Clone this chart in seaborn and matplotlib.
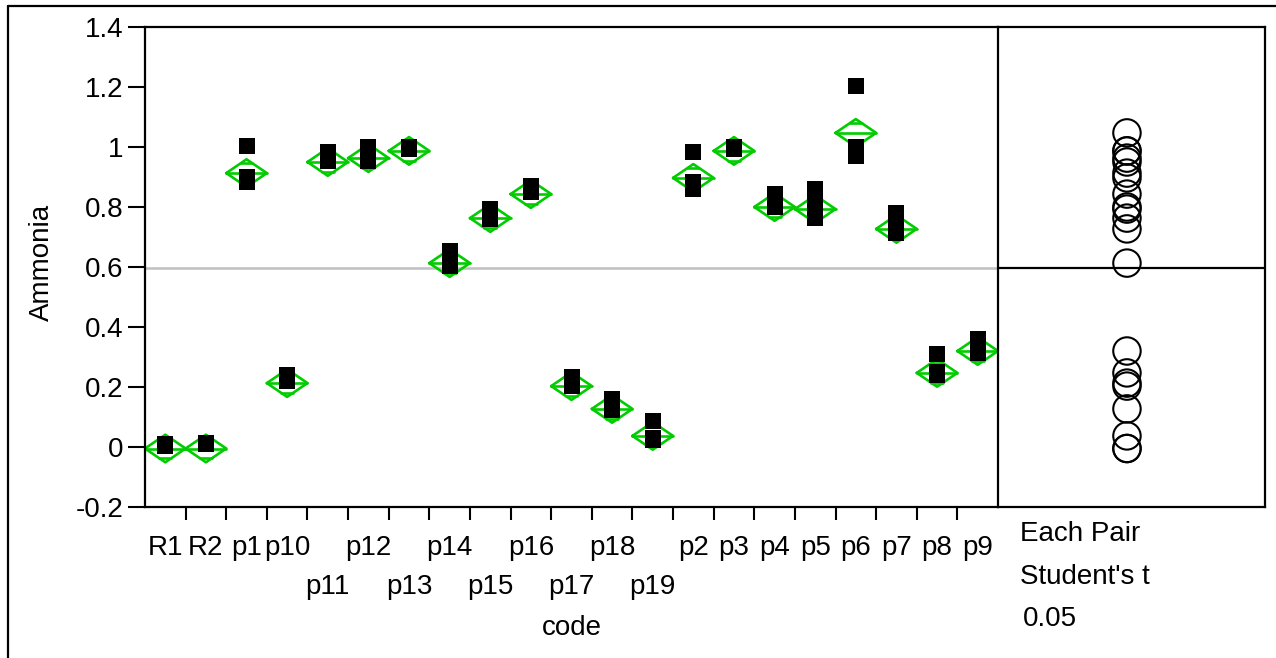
import numpy as np
import pandas as pd
import matplotlib
matplotlib.use("Agg")
import matplotlib.pyplot as plt
from matplotlib.lines import Line2D
import seaborn as sns

# ---- data ----
codes = ["R1", "R2", "p1", "p10", "p11", "p12", "p13", "p14", "p15", "p16",
         "p17", "p18", "p19", "p2", "p3", "p4", "p5", "p6", "p7", "p8", "p9"]

point_values = [
    [0.010, 0.005],            # R1
    [0.015, 0.010],            # R2
    [1.003, 0.900, 0.885],     # p1
    [0.240, 0.220],            # p10
    [0.983, 0.955],            # p11
    [1.000, 0.975, 0.955],     # p12
    [1.000, 0.995],            # p13
    [0.655, 0.620, 0.605],     # p14
    [0.795, 0.760],            # p15
    [0.870, 0.850],            # p16
    [0.235, 0.205],            # p17
    [0.160, 0.125],            # p18
    [0.087, 0.030, 0.025],     # p19
    [0.985, 0.885, 0.860],     # p2
    [1.000, 0.995],            # p3
    [0.845, 0.800],            # p4
    [0.860, 0.805, 0.765],     # p5
    [1.205, 1.000, 0.970],     # p6
    [0.780, 0.740, 0.715],     # p7
    [0.310, 0.250, 0.240],     # p8
    [0.360, 0.315],            # p9
]

group_means = [-0.005, -0.005, 0.913, 0.213, 0.950, 0.963, 0.987, 0.613, 0.763,
               0.843, 0.203, 0.127, 0.037, 0.897, 0.987, 0.800, 0.793, 1.047,
               0.727, 0.247, 0.320]
ci_half = 0.046          # 95% CI half-height of the mean diamonds / circle radius
grand_mean = 0.597

staggered = ["p11", "p13", "p15", "p17", "p19"]   # labels on the second row
yticks = [-0.2, 0, 0.2, 0.4, 0.6, 0.8, 1, 1.2, 1.4]
ytick_labels = ["-0.2", "0", "0.2", "0.4", "0.6", "0.8", "1", "1.2", "1.4"]

df = pd.DataFrame({
    "code": np.repeat(codes, [len(v) for v in point_values]),
    "Ammonia": np.concatenate(point_values),
})

# ---- style ----
sns.set_style("white")
plt.rcParams["font.family"] = ["Liberation Sans", "DejaVu Sans"]
plt.rcParams["text.color"] = "black"
plt.rcParams["xtick.color"] = "black"
plt.rcParams["ytick.color"] = "black"
FS = 20
GREEN = "#00cc00"

W, H = 1276, 658
fig = plt.figure(figsize=(W / 100, H / 100), dpi=100)


def fx(px):
    return px / W


def fy(py):
    return 1 - py / H


ax = fig.add_axes([fx(145), fy(507), (998 - 145) / W, (507 - 27) / H])
ax2 = fig.add_axes([fx(998), fy(507), (1265 - 998) / W, (507 - 27) / H])

# grand mean line
ax.axhline(grand_mean, color="#c0c0c0", lw=1.8, zorder=1)

# mean diamonds with overlap marks
d = ci_half / np.sqrt(2)
w = 0.5 * (1 - 1 / np.sqrt(2))
for i, m in enumerate(group_means):
    ax.plot([i - 0.5, i, i + 0.5, i, i - 0.5], [m, m + ci_half, m, m - ci_half, m],
            color=GREEN, lw=1.9, zorder=2)
    ax.plot([i - 0.5, i + 0.5], [m, m], color=GREEN, lw=1.9, zorder=2)
    for s in (1, -1):
        ax.plot([i - w, i + w], [m + s * d, m + s * d], color=GREEN, lw=1.9, zorder=2)

# raw points
sns.stripplot(data=df, x="code", y="Ammonia", order=codes, jitter=False,
              marker="s", size=12, color="black", linewidth=0, ax=ax, zorder=3)

ax.set_xlim(-0.5, len(codes) - 0.5)
ax.set_ylim(-0.2, 1.4)
ax.set_xlabel("")
ax.set_ylabel("")
ax.set_xticks(np.arange(0.5, len(codes) - 1, 1))
ax.set_xticklabels([])
ax.set_yticks(yticks)
ax.set_yticklabels(ytick_labels)
ax.tick_params(axis="x", direction="out", length=9, width=1.5, bottom=True)
ax.tick_params(axis="y", direction="out", length=12, width=1.5, pad=3.5,
               labelsize=FS, left=True)
for side in ["left", "bottom", "top"]:
    ax.spines[side].set_color("black")
    ax.spines[side].set_linewidth(1.6)
ax.spines["right"].set_visible(False)

# staggered category labels
trans = ax.get_xaxis_transform()
for i, c in enumerate(codes):
    yy = -0.1667 if c in staggered else -0.0854
    ax.text(i, yy, c, transform=trans, ha="center", va="center", fontsize=FS)
ax.text(0.5, (507 - 628) / 480, "code", transform=ax.transAxes,
        ha="center", va="center", fontsize=FS)
fig.text(fx(42), fy(262), "Ammonia", rotation=90, ha="center", va="center",
         fontsize=FS)

# comparison circles panel
circle_df = pd.DataFrame({"x": [0.483] * len(group_means), "mean": group_means})
sns.scatterplot(data=circle_df, x="x", y="mean", marker="o", s=390,
                facecolor="none", edgecolor="black", linewidth=1.5, ax=ax2,
                legend=False)
ax2.axhline(grand_mean, color="black", lw=1.6)
ax2.set_xlim(0, 1)
ax2.set_ylim(-0.2, 1.4)
ax2.set_xticks([])
ax2.set_yticks([])
ax2.set_xlabel("")
ax2.set_ylabel("")
for side in ax2.spines:
    ax2.spines[side].set_color("black")
    ax2.spines[side].set_linewidth(1.6)

fig.text(fx(1020), fy(534), "Each Pair", ha="left", va="center", fontsize=FS)
fig.text(fx(1020), fy(577), "Student's t", ha="left", va="center", fontsize=FS)
fig.text(fx(1023), fy(619), "0.05", ha="left", va="center", fontsize=FS)

# outer frame
fig.add_artist(Line2D([fx(8), fx(8)], [fy(6), 0], transform=fig.transFigure,
                      color="black", lw=1.6))
fig.add_artist(Line2D([fx(8), 1], [fy(6), fy(6)], transform=fig.transFigure,
                      color="black", lw=1.6))

fig.savefig("out.png", dpi=100)
